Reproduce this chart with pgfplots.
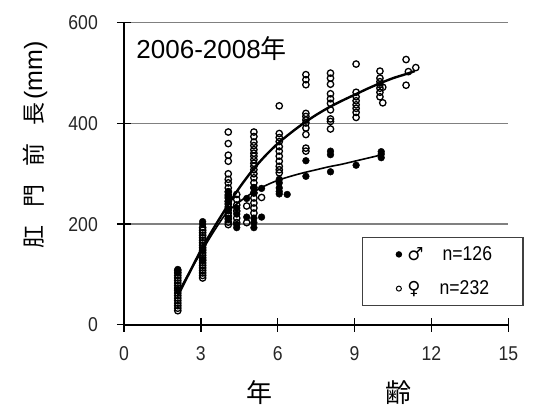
\documentclass[border=0pt]{standalone}
\usepackage{fontspec}
\setmainfont{Liberation Sans}[FakeStretch=0.88]
\newfontfamily\titlef{Liberation Sans}
\newfontfamily\jpf{Noto Sans CJK JP}
\newfontfamily\symf{DejaVu Sans}
\usepackage{pgfplots}
\usepackage{pgfplotstable}
\pgfplotsset{compat=1.18}
\pgfplotsset{dotlegend/.style={legend image code/.code={%
  \path (-36bp,-16.5bp) (4bp,16.5bp);
  \draw[##1] plot coordinates {(0bp,0bp)};}}}

% females (open circles): age (years), preanal length (mm)
\pgfplotstableread{
x y
2.10 28
2.10 33
2.10 38
2.10 43
2.10 48
2.10 53
2.10 58
2.10 63
2.10 68
2.10 73
2.10 78
2.10 83
2.10 88
2.10 93
2.10 98
2.10 103
2.10 108
3.07 93
3.07 98
3.07 103
3.07 108
3.07 113
3.07 118
3.07 123
3.07 128
3.07 133
3.07 138
3.07 143
3.07 148
3.07 153
3.07 158
3.07 163
3.07 168
3.07 173
3.07 178
3.07 183
3.07 188
3.07 193
4.07 383
4.07 360
4.07 337
4.07 325
4.07 300
4.07 289
4.07 282
4.07 272
4.07 264
4.07 258
4.07 252
4.07 245
4.07 240
4.07 234
4.07 228
4.07 222
4.07 216
4.07 210
4.07 204
4.07 199
4.40 259
4.40 249
4.40 238
4.40 226
4.40 212
4.40 203
4.79 236
4.79 203
5.07 383
5.07 374
5.07 363
5.07 356
5.07 348
5.07 341
5.07 335
5.07 328
5.07 321
5.07 315
5.07 308
5.07 300
5.07 292
5.07 282
5.07 272
5.07 262
5.07 252
5.07 242
5.07 232
5.07 222
5.37 253
6.06 435
6.06 380
6.06 372
6.06 364
6.06 354
6.06 345
6.06 335
6.06 325
6.06 315
6.06 308
6.06 302
7.10 497
7.10 487
7.10 477
7.10 420
7.10 414
7.10 407
7.10 401
7.10 391
7.10 378
7.10 351
7.10 345
8.06 500
8.06 490
8.06 478
8.06 459
8.06 449
8.06 440
8.06 427
8.06 409
8.06 404
8.06 389
9.06 518
9.06 462
9.06 453
9.06 445
9.06 437
9.06 430
9.06 422
9.06 412
9.99 504
9.99 490
9.99 483
9.99 477
9.99 470
9.99 462
9.99 453
10.10 472
10.10 441
11.01 527
11.01 476
11.10 503
11.39 511
}\femaletab

% males (filled circles)
\pgfplotstableread{
x y
2.10 70
2.10 104
2.10 110
3.07 205
3.07 200
3.07 150
3.07 130
4.07 265
4.07 255
4.07 246
4.07 230
4.07 212
4.40 232
4.40 220
4.40 199
4.40 193
4.79 251
4.79 214
5.07 273
5.07 262
5.07 212
5.07 203
5.07 193
5.37 271
5.37 214
6.06 289
6.06 282
6.06 272
6.06 265
6.06 260
6.37 259
7.10 326
7.10 295
8.06 345
8.06 338
8.06 304
9.06 317
10.04 344
10.04 339
10.04 332
}\maletab

% fitted growth curves
\pgfplotstableread{
x y
2.10 58
2.50 98
3.00 148
3.50 192
4.00 233
4.50 272
5.00 306
5.50 335
6.00 360
6.50 381
7.00 400
7.50 417
8.00 432
8.50 445
9.00 457
9.50 469
10.00 480
10.50 490
11.00 498
11.35 504
}\femalefit

\pgfplotstableread{
x y
2.10 62
2.50 100
3.00 143
3.50 185
4.00 222
4.50 244
5.00 262
5.50 276
6.00 287
6.50 295
7.00 302
7.50 308
8.00 314
8.50 319
9.00 325
9.50 331
10.00 337
}\malefit

\begin{document}
\begin{tikzpicture}
\useasboundingbox (-124bp,-92.2bp) rectangle (413bp,324.8bp);
\begin{axis}[
  scale only axis,
  width=384.3bp, height=302bp,
  xmin=0, xmax=15, ymin=0, ymax=600,
  axis lines*=left,
  axis line style={-, black, line width=1.6bp},
  xtick={0,3,6,9,12,15},
  ytick={0,200,400,600},
  tick align=center,
  major tick length=14bp,
  tick style={black, line width=1.3bp},
  ymajorgrids,
  grid style={black!50, line width=1.4bp},
  /pgf/number format/assume math mode=true,
  ticklabel style={font=\fontsize{20bp}{24bp}\selectfont, text=black!85},
  xticklabel style={anchor=north, inner sep=0pt, yshift=-15bp},
  yticklabel style={anchor=east, inner sep=0pt, xshift=-19bp},
  xlabel={年\hspace{113bp}齢},
  xlabel style={at={(rel axis cs:0.5343,-0.224)}, anchor=center, inner sep=0pt,
    font=\jpf\fontsize{26bp}{30bp}\selectfont},
  ylabel={肛\hspace{18bp}門\hspace{18bp}前\hspace{18bp}長{\titlef\fontsize{25bp}{28bp}\selectfont\hspace{3bp}(mm)}},
  ylabel style={at={(rel axis cs:-0.2316,0.595)}, anchor=center, inner sep=0pt,
    font=\jpf\fontsize{23bp}{26bp}\selectfont},
  clip=false,
  legend style={at={(rel axis cs:0.6185,0.2917)}, anchor=north west,
    draw=black!75, line width=1.2bp, fill=white,
    inner xsep=0pt, inner ysep=0pt, row sep=0pt, column sep=0pt,
    font=\fontsize{20bp}{24bp}\selectfont,
    nodes={inner sep=0pt}},
  legend cell align=left,
]
% open circles for females, filled for males
\addplot[only marks, mark=o, mark size=3.2bp, mark options={line width=1.3bp, fill=white, draw=black}, forget plot]
  table[x=x, y=y] {\femaletab};
\addplot[only marks, mark=*, mark size=3.4bp, mark options={fill=black, draw=black}, forget plot]
  table[x=x, y=y] {\maletab};
\addplot[black, line width=2.4bp, smooth, tension=0.5, forget plot] table[x=x, y=y] {\femalefit};
\addplot[black, line width=1.6bp, smooth, tension=0.5, forget plot] table[x=x, y=y] {\malefit};

\addlegendimage{only marks, mark=*, mark size=2.6bp, mark options={fill=black}, dotlegend}
\addlegendentry{\hspace{4bp}{\symf\fontsize{18bp}{20bp}\selectfont ♂}\hspace{19bp}n=126\hspace{31bp}\null}
\addlegendimage{only marks, mark=o, mark size=2.5bp, mark options={fill=white, line width=1bp}, dotlegend}
\addlegendentry{\hspace{4bp}{\symf\fontsize{18bp}{20bp}\selectfont ♀}\hspace{19bp}n=232\hspace{31bp}\null}

\node[anchor=base west, inner sep=0pt, font=\titlef\fontsize{26bp}{30bp}\selectfont]
  at (rel axis cs:0.032,0.883) {2006-2008{\jpf 年}};
\end{axis}
\end{tikzpicture}
\end{document}
